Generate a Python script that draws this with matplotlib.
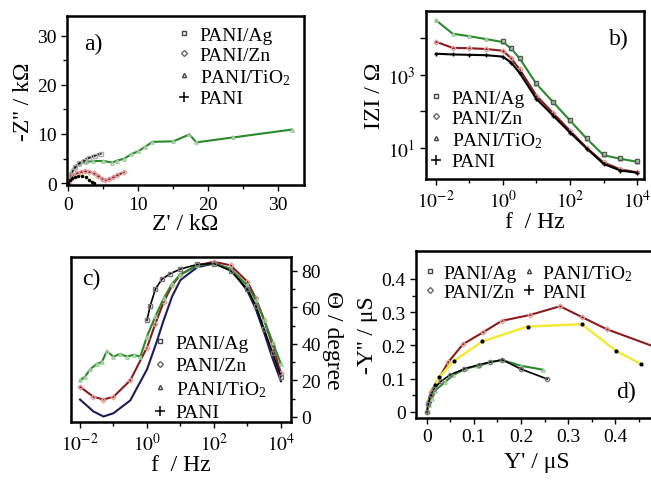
import matplotlib
matplotlib.use("Agg")
from matplotlib import pyplot as plt
from matplotlib.lines import Line2D
from matplotlib.ticker import NullFormatter
import numpy as np

plt.rcParams['font.family'] = ['Liberation Serif', 'DejaVu Serif']
plt.rcParams['mathtext.fontset'] = 'stix'

labels = ["PANI/Ag", "PANI/Zn", "PANI/TiO$_\\mathregular{2}$", "PANI"]

# a) Nyquist, kOhm
a_ti_x = [0, 0.3, 0.8, 1.5, 2.5, 3.5, 5, 6.3, 7, 8, 9, 10, 11, 12, 15, 17.3, 18.3, 23.6, 32]
a_ti_y = [0, 2.0, 3.2, 3.9, 4.3, 4.5, 4.5, 4.2, 4.6, 5.0, 5.9, 6.5, 7.4, 8.4, 8.5, 9.9, 8.3, 9.3, 10.9]
a_ag_x = [0, 0.3, 0.6, 1.0, 1.5, 2.2, 3.0, 3.8, 4.6]
a_ag_y = [0, 1.5, 2.5, 3.3, 4.0, 4.6, 5.2, 5.6, 6.0]
a_zn_x = [0, 0.3, 0.7, 1.2, 1.8, 2.4, 3.0, 3.6, 4.2, 4.8, 5.3, 5.8, 6.4, 7.0, 7.9]
a_zn_y = [0, 0.8, 1.5, 2.0, 2.3, 2.4, 2.3, 2.0, 1.5, 0.9, 0.6, 0.8, 1.2, 1.6, 2.2]
a_pani_x = [0, 0.2, 0.5, 0.9, 1.4, 2.0, 2.5, 3.0, 3.3, 3.6]
a_pani_y = [0, 0.6, 1.0, 1.3, 1.5, 1.5, 1.2, 0.7, 0.3, 0.1]

# b) Bode |Z|, log10 values
b_logf = [-2, -1.5, -1, -0.5, 0, 0.25, 0.5, 1, 1.5, 2, 2.5, 3, 3.5, 4]
b_ti = [4.5, 4.13, 4.06, 3.98, 3.9, 3.72, 3.45, 2.75, 2.25, 1.75, 1.25, 0.8, 0.7, 0.62]
b_zn = [3.91, 3.74, 3.73, 3.71, 3.66, 3.45, 3.15, 2.43, 1.95, 1.47, 1.0, 0.6, 0.41, 0.33]
b_pani = [3.58, 3.56, 3.55, 3.54, 3.5, 3.33, 3.05, 2.34, 1.88, 1.42, 0.98, 0.56, 0.38, 0.32]
b_ag_logf = [0, 0.25, 0.5, 1, 1.5, 2, 2.5, 3, 3.5, 4]
b_ag = [3.93, 3.74, 3.47, 2.77, 2.27, 1.77, 1.27, 0.82, 0.71, 0.63]

# c) Bode phase, degrees
c_logf = [-2, -1.6, -1.3, -1, -0.5, 0, 0.25, 0.5, 0.75, 1, 1.5, 2, 2.5, 3, 3.25, 3.5, 3.75, 4]
c_pani = [9.5, 3, 0.2, 2, 9, 26, 39, 53, 66, 75, 82, 84, 81, 69, 59, 46, 32, 19.5]
c_zn = [16.5, 11, 9.5, 11, 20, 38, 51, 63, 72, 78, 83, 85, 83, 74, 65, 53, 39, 24]
c_ti_logf = [-2, -1.85, -1.7, -1.5, -1.35, -1.2, -1, -0.8, -0.6, -0.4, -0.2, 0, 0.25, 0.5,
             0.75, 1, 1.5, 2, 2.5, 3, 3.25, 3.5, 3.75, 4]
c_ti = [20, 22, 26, 29, 30, 36, 33, 34.5, 33, 34, 33, 44, 55, 65, 73, 78, 83, 84, 81,
        72, 64, 53, 41, 29]
c_ag_logf = [0, 0.1, 0.25, 0.45, 0.7, 1, 1.5, 2, 2.5, 3, 3.25, 3.5, 3.75, 4]
c_ag = [53, 61, 70, 75.5, 78.5, 81, 83.5, 84, 80, 70, 61, 48, 35, 22]

# d) admittance, uS
d_zn_x = [0, 0.003, 0.008, 0.021, 0.045, 0.077, 0.12, 0.159, 0.22, 0.283, 0.33, 0.382, 0.48]
d_zn_y = [0, 0.03, 0.06, 0.089, 0.149, 0.204, 0.24, 0.274, 0.292, 0.318, 0.285, 0.249, 0.198]
d_pani_x = [0, 0.004, 0.01, 0.018, 0.026, 0.058, 0.118, 0.214, 0.329, 0.402, 0.455]
d_pani_y = [0, 0.03, 0.055, 0.08, 0.104, 0.154, 0.212, 0.257, 0.264, 0.184, 0.144]
d_ti_x = [0, 0.004, 0.01, 0.017, 0.038, 0.056, 0.084, 0.109, 0.134, 0.16, 0.2, 0.247]
d_ti_y = [0, 0.02, 0.04, 0.064, 0.089, 0.111, 0.131, 0.139, 0.149, 0.156, 0.139, 0.127]
d_ag_x = [0, 0.003, 0.008, 0.015, 0.03, 0.05, 0.08, 0.11, 0.135, 0.16, 0.2, 0.256]
d_ag_y = [0, 0.025, 0.05, 0.07, 0.092, 0.112, 0.13, 0.142, 0.15, 0.157, 0.129, 0.099]

green = "#2a8a2a"
red = "#8b1c1c"
navy = "#1c1c5a"
yellow = "#f2ea3a"

fs_tick = 14
fs_lab = 17
fs_leg = 14

fig = plt.figure(figsize=(6.51, 4.81), dpi=100)


def style(ax):
    for s in ax.spines.values():
        s.set_linewidth(1.8)
    ax.tick_params(labelsize=fs_tick, width=1, length=4, direction="out")
    ax.tick_params(which="minor", width=1, length=3)
    ax.xaxis.set_minor_formatter(NullFormatter())
    ax.yaxis.set_minor_formatter(NullFormatter())


def leg_handles():
    return [Line2D([], [], ls="none", marker="s", ms=3, mfc="none", mec="#444444"),
            Line2D([], [], ls="none", marker="D", ms=3, mfc="none", mec="#666666"),
            Line2D([], [], ls="none", marker="^", ms=3, mfc="none", mec="#444444"),
            Line2D([], [], ls="none", marker="+", ms=7, mec="black", mew=1.1)]


def add_legend(ax, spacing=0.15, **kw):
    ax.legend(leg_handles(), labels, frameon=False, fontsize=fs_leg, handlelength=0.8,
              handletextpad=0.4, labelspacing=spacing, borderpad=0.2, **kw)


# panel a
ax = fig.add_axes([0.103, 0.613, 0.364, 0.352])
ax.plot(a_ti_x, a_ti_y, color=green, lw=1.5, marker="^", ms=2.5, mfc="none", mec="#9fd09f")
ax.plot(a_ag_x, a_ag_y, color="black", lw=1.5, marker="s", ms=2.5, mfc="none", mec="#aaaaaa")
ax.plot(a_zn_x, a_zn_y, color=red, lw=1.5, marker="D", ms=2.5, mfc="none", mec="#e0a0a0")
ax.plot(a_pani_x, a_pani_y, color=yellow, lw=1.5, marker=".", ms=3, mec="black", mfc="black")
ax.set_xlim(-0.2, 33.7)
ax.set_ylim(-0.4, 34)
ax.set_xticks([0, 10, 20, 30])
ax.set_xticks([5, 15, 25], minor=True)
ax.set_yticks([0, 10, 20, 30])
ax.set_yticks([5, 15, 25], minor=True)
ax.set_xlabel("Z' / k\u03a9", fontsize=fs_lab, labelpad=0)
ax.set_ylabel("-Z'' / k\u03a9", fontsize=fs_lab, labelpad=2)
ax.text(0.07, 0.9, "a)", transform=ax.transAxes, fontsize=fs_lab, va="top")
add_legend(ax, loc="upper right", bbox_to_anchor=(1.0, 1.02))
style(ax)

# panel b
ax = fig.add_axes([0.654, 0.626, 0.335, 0.349])
f = 10.0 ** np.array(b_logf)
ax.plot(f, 10.0 ** np.array(b_ti), color=green, lw=1.5, marker="^", ms=2.5, mfc="none", mec="#9fd09f")
ax.plot(f, 10.0 ** np.array(b_zn), color=red, lw=1.5, marker="D", ms=2.5, mfc="none", mec="#e0a0a0")
ax.plot(f, 10.0 ** np.array(b_pani), color="black", lw=1.5, marker="+", ms=3)
ax.plot(10.0 ** np.array(b_ag_logf), 10.0 ** np.array(b_ag), ls="none",
        marker="s", ms=3, mfc="none", mec="#555555")
ax.set_xscale("log")
ax.set_yscale("log")
ax.set_xlim(10 ** -2.3, 10 ** 4.2)
ax.set_ylim(10 ** 0.15, 10 ** 4.75)
ax.set_xticks([1e-2, 1e0, 1e2, 1e4])
ax.set_xticks([1e-1, 1e1, 1e3], minor=True)
ax.set_xticklabels(["$10^{-2}$", "$10^{0}$", "$10^{2}$", "$10^{4}$"])
ax.set_yticks([1e1, 1e3])
ax.set_yticks([1e2, 1e4], minor=True)
ax.set_yticklabels(["$10^{1}$", "$10^{3}$"])
ax.set_xlabel("f  / Hz", fontsize=fs_lab, labelpad=0)
ax.set_ylabel("IZI / \u03a9", fontsize=fs_lab, labelpad=2)
ax.text(0.84, 0.9, "b)", transform=ax.transAxes, fontsize=fs_lab, va="top")
add_legend(ax, loc="lower left", bbox_to_anchor=(-0.05, -0.03))
style(ax)
ax.tick_params(axis="y", which="minor", length=4)

# panel c
ax = fig.add_axes([0.109, 0.121, 0.338, 0.343])
ax.plot(10.0 ** np.array(c_logf), c_pani, color=navy, lw=1.5)
ax.plot(10.0 ** np.array(c_logf), c_zn, color=red, lw=1.5, marker="D", ms=2.5, mfc="none", mec="#e0a0a0")
ax.plot(10.0 ** np.array(c_ti_logf), c_ti, color=green, lw=1.5, marker="^", ms=2.5, mfc="none", mec="#9fd09f")
ax.plot(10.0 ** np.array(c_ag_logf), c_ag, color="black", lw=1.2, marker="s", ms=2.5, mfc="none", mec="#777777")
ax.set_xscale("log")
ax.set_xlim(10 ** -2.27, 10 ** 4.3)
ax.set_ylim(-2.7, 87.7)
ax.set_xticks([1e-2, 1e0, 1e2, 1e4])
ax.set_xticks([1e-1, 1e1, 1e3], minor=True)
ax.set_xticklabels(["$10^{-2}$", "$10^{0}$", "$10^{2}$", "$10^{4}$"])
ax.yaxis.tick_right()
ax.yaxis.set_label_position("right")
ax.set_yticks([0, 20, 40, 60, 80])
ax.set_yticks([10, 30, 50, 70], minor=True)
ax.set_xlabel("f  / Hz", fontsize=fs_lab, labelpad=0)
ax.set_ylabel("\u0398 / degree", fontsize=fs_lab, rotation=270, labelpad=16)
ax.text(0.05, 0.93, "c)", transform=ax.transAxes, fontsize=fs_lab, va="top")
add_legend(ax, spacing=0.25, loc="lower center", bbox_to_anchor=(0.63, -0.08))
style(ax)

# panel d
ax = fig.add_axes([0.639, 0.129, 0.371, 0.347])
ax.plot(d_zn_x, d_zn_y, color=red, lw=1.5, marker="D", ms=2.5, mfc="none", mec="#e0a0a0")
ax.plot(d_pani_x, d_pani_y, color=yellow, lw=1.8, marker=".", ms=4, mec="black", mfc="black")
ax.plot(d_ti_x, d_ti_y, color=green, lw=1.5, marker="^", ms=2.5, mfc="none", mec="#9fd09f")
ax.plot(d_ag_x, d_ag_y, color="black", lw=1.2, marker="o", ms=3, mfc="none", mec="#777777")
ax.set_xlim(-0.023, 0.49)
ax.set_ylim(-0.018, 0.484)
ax.set_xticks([0, 0.1, 0.2, 0.3, 0.4])
ax.set_xticklabels(["0", "0.1", "0.2", "0.3", "0.4"])
ax.set_xticks([0.05, 0.15, 0.25, 0.35, 0.45], minor=True)
ax.set_yticks([0, 0.1, 0.2, 0.3, 0.4])
ax.set_yticklabels(["0", "0.1", "0.2", "0.3", "0.4"])
ax.set_yticks([0.05, 0.15, 0.25, 0.35], minor=True)
ax.set_xlabel("Y' / \u03bcS", fontsize=fs_lab, labelpad=4)
ax.set_ylabel("-Y'' / \u03bcS", fontsize=fs_lab, labelpad=2)
ax.text(0.83, 0.22, "d)", transform=ax.transAxes, fontsize=fs_lab, va="top")
ax.legend(leg_handles(), labels, ncol=2,
          frameon=False, fontsize=fs_leg, handlelength=0.8, handletextpad=0.3,
          labelspacing=0.05, columnspacing=0.2, borderpad=0.2,
          loc="upper left", bbox_to_anchor=(-0.03, 1.01))
style(ax)

fig.savefig("out.png", dpi=100)
